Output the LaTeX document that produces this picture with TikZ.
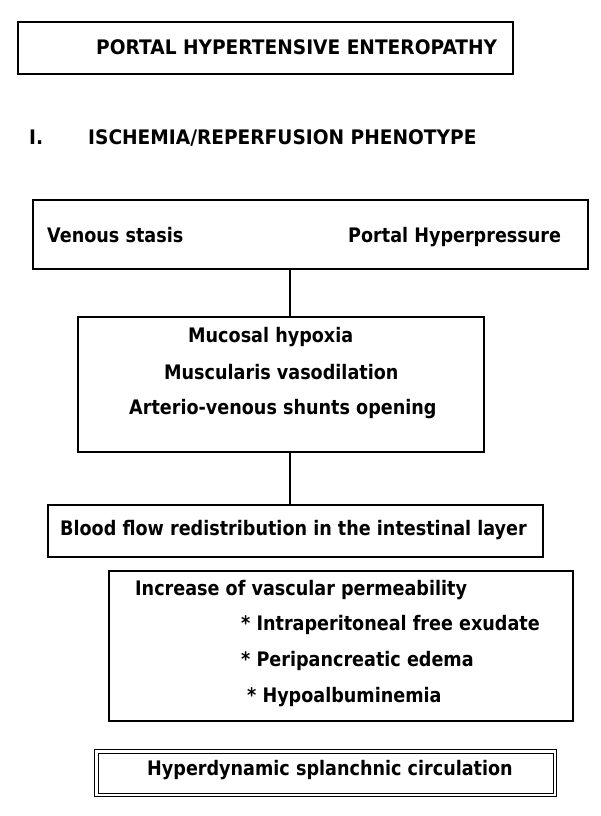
\documentclass[tikz,border=0pt]{standalone}
\usepackage{fontspec}
\setmainfont{DejaVu Sans}[FakeStretch=0.88]
\newfontfamily\capsfont{DejaVu Sans}[FakeStretch=0.93]
\begin{document}
\begin{tikzpicture}[x=1pt,y=-1pt,
  boxs/.style={draw, line width=1.4pt, inner sep=0pt},
  txt/.style={anchor=base west, inner sep=0pt, font=\fontsize{20}{24}\selectfont\bfseries},
  captxt/.style={anchor=base west, inner sep=0pt, font=\fontsize{20}{24}\capsfont\bfseries},
  link/.style={line width=1.4pt}]
\useasboundingbox (0,0) rectangle (600,816);
% title box
\node[boxs, minimum width=495pt, minimum height=52pt] (tb) at (265.5,48) {};
\node[captxt] (tt) at (96,55) {PORTAL HYPERTENSIVE ENTEROPATHY};
\node[captxt] (n1) at (29,144) {I.};
\node[captxt] (h1) at (88,144) {ISCHEMIA/REPERFUSION PHENOTYPE};
% box 2
\node[boxs, minimum width=555pt, minimum height=69pt] (b2) at (310.5,234.5) {};
\node[txt] (vs) at (47,242) {Venous stasis};
\node[txt] (ph) at (348,242) {Portal Hyperpressure};
% box 3
\node[boxs, minimum width=406pt, minimum height=135pt] (b3) at (281,384.5) {};
\node[txt] (m1) at (188,342) {Mucosal hypoxia};
\node[txt] (m2) at (164,379) {Muscularis vasodilation};
\node[txt] (m3) at (129,414) {Arterio-venous shunts opening};
% box 4
\node[boxs, minimum width=495pt, minimum height=52pt] (b4) at (295.5,531) {};
\node[txt] (bf) at (60,535) {Blood flow redistribution in the intestinal layer};
% box 5
\node[boxs, minimum width=464pt, minimum height=150pt] (b5) at (341,646) {};
\node[txt] (p0) at (135,595) {Increase of vascular permeability};
\node[txt] (p1) at (241,630) {* Intraperitoneal free exudate};
\node[txt] (p2) at (241,666) {* Peripancreatic edema};
\node[txt] (p3) at (247,702) {* Hypoalbuminemia};
% box 6 (double)
\node[draw, line width=1.2pt, inner sep=0pt,
      minimum width=462pt, minimum height=47pt] (b6) at (325.5,773) {};
\node[draw, line width=1pt, inner sep=0pt,
      minimum width=455pt, minimum height=40pt] (b6i) at (325.5,773) {};
\node[txt] (hd) at (147,775) {Hyperdynamic splanchnic circulation};
% connectors
\coordinate (lx) at (290,0);
\draw[link] (b2.south -| lx) -- (b3.north -| lx);
\draw[link] (b3.south -| lx) -- (b4.north -| lx);
\end{tikzpicture}
\end{document}
